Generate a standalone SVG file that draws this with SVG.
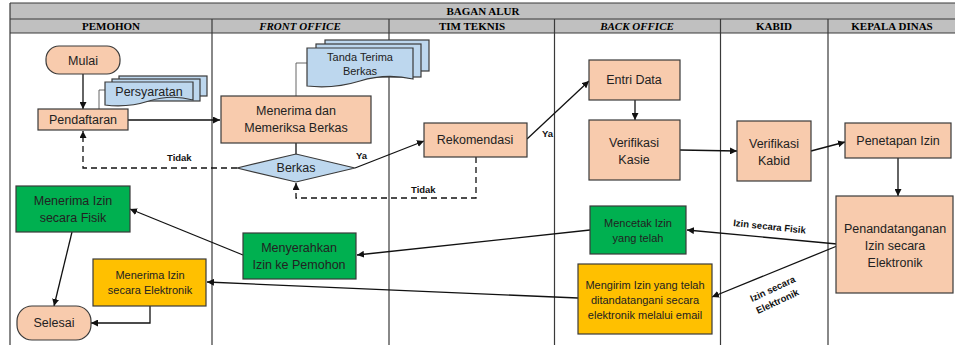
<svg xmlns="http://www.w3.org/2000/svg" width="955" height="345" viewBox="0 0 955 345">
<style>
.grid{stroke:#3a3a3a;stroke-width:1.2;fill:none}
.hdr{fill:#c0c0c0}
.ht{font-family:"Liberation Serif",serif;font-weight:bold;font-size:11px;fill:#000;text-anchor:middle}
.hti{font-style:italic}
.or{fill:#f8cbad;stroke:#3a3a3a;stroke-width:1.2}
.bl{fill:#bdd7ee;stroke:#3a3a3a;stroke-width:1.2}
.gr{fill:#00b050;stroke:#3a3a3a;stroke-width:1.2}
.ye{fill:#ffc000;stroke:#3a3a3a;stroke-width:1.2}
.t{font-family:"Liberation Sans",Arial,sans-serif;font-size:12.5px;fill:#222;text-anchor:middle}
.ts{font-size:11px}
.lb{font-family:"Liberation Sans",Arial,sans-serif;font-weight:bold;font-size:9.5px;fill:#111}
.c{stroke:#111;stroke-width:1.3;fill:none}
.ca{marker-end:url(#ah)}
.d{stroke-dasharray:6,4}
.thin{stroke:#555;stroke-width:0.9;fill:none}
</style>
<defs>
<marker id="ah" viewBox="0 0 10 10" refX="10" refY="5" markerWidth="7" markerHeight="7" markerUnits="userSpaceOnUse" orient="auto">
<path d="M0,0 L10,5 L0,10 Z" fill="#111"/>
</marker>
</defs>
<g id="table">
<rect class="hdr" x="10" y="3" width="946" height="30"/>
<path class="grid" d="M10,3 H956 M10,19 H956 M10,33 H956 M10,3 V345 M212,19 V345 M389,19 V345 M554.5,19 V345 M720.5,19 V345 M828,19 V345"/>
<text class="ht" x="483" y="15">BAGAN ALUR</text>
<text class="ht" x="111" y="30">PEMOHON</text>
<text class="ht hti" x="300" y="30">FRONT OFFICE</text>
<text class="ht" x="472" y="30">TIM TEKNIS</text>
<text class="ht hti" x="637" y="30">BACK OFFICE</text>
<text class="ht" x="774" y="30">KABID</text>
<text class="ht" x="892" y="30">KEPALA DINAS</text>
</g>
<g id="connectors">
<path class="thin" d="M105,90 H99 V109"/>
<path class="thin" d="M307,63 H296 V96"/>
<path class="c" d="M296,143 V154"/>
<path class="c ca" d="M83,74 V109"/>
<path class="c ca" d="M128,120 H220"/>
<path class="c d ca" d="M237,168 H83 V131"/>
<path class="c ca" d="M355,168 L424,141"/>
<path class="c d ca" d="M476,157 V198 H296 V183"/>
<path class="c ca" d="M527,139 L589,81"/>
<path class="c ca" d="M635,100 V120"/>
<path class="c ca" d="M680,150 L737,151"/>
<path class="c ca" d="M811,151 L845,142"/>
<path class="c ca" d="M898,158 V196"/>
<path class="c ca" d="M837,244 L687,230"/>
<path class="c ca" d="M837,246 L712,297"/>
<path class="c ca" d="M590,230 L357,255"/>
<path class="c ca" d="M243,255 L130,209"/>
<path class="c ca" d="M578,298 L207,282"/>
<path class="c ca" d="M72,232 L54,306"/>
<path class="c ca" d="M150,306 V323 H91"/>
<text class="lb" x="167" y="161">Tidak</text>
<text class="lb" x="356" y="159">Ya</text>
<text class="lb" x="411" y="193">Tidak</text>
<text class="lb" x="542" y="137">Ya</text>
<text class="lb" transform="translate(733,226) rotate(6)">Izin secara Fisik</text>
<text class="lb" transform="translate(752,302) rotate(-25)">Izin secara</text>
<text class="lb" transform="translate(758,314) rotate(-25)">Elektronik</text>
</g>
<g id="mulai">
<rect class="or" x="46" y="46" width="74" height="28" rx="13"/>
<text class="t" x="83" y="65">Mulai</text>
</g>
<g id="persyaratan">
<rect class="bl" x="119" y="76" width="88" height="20"/>
<rect class="bl" x="112" y="79" width="88" height="22"/>
<path class="bl" d="M105,82 H193 V100 Q171,94 149,101 T105,105 Z"/>
<text class="t" x="149" y="96">Persyaratan</text>
</g>
<g id="pendaftaran">
<rect class="or" x="38" y="109" width="90" height="21"/>
<text class="t" x="83" y="124">Pendaftaran</text>
</g>
<g id="tanda-terima">
<rect class="bl" x="325" y="40" width="104" height="31"/>
<rect class="bl" x="316" y="44" width="105" height="33"/>
<path class="bl" d="M307,48 H413 V79 Q386,73 360,81 T307,86 Z"/>
<text class="t ts" x="360" y="61">Tanda Terima</text>
<text class="t ts" x="360" y="75">Berkas</text>
</g>
<g id="menerima-berkas">
<rect class="or" x="221" y="96" width="150" height="47"/>
<text class="t" x="296" y="115">Menerima dan</text>
<text class="t" x="296" y="132">Memeriksa Berkas</text>
</g>
<g id="berkas">
<path class="bl" d="M237,168 L296,154 L355,168 L296,182 Z"/>
<text class="t" x="296" y="172">Berkas</text>
</g>
<g id="rekomendasi">
<rect class="or" x="424" y="123" width="103" height="34"/>
<text class="t" x="475" y="144">Rekomendasi</text>
</g>
<g id="entri-data">
<rect class="or" x="589" y="60" width="91" height="40"/>
<text class="t" x="634" y="84">Entri Data</text>
</g>
<g id="verifikasi-kasie">
<rect class="or" x="589" y="120" width="91" height="60"/>
<text class="t" x="634" y="147">Verifikasi</text>
<text class="t" x="634" y="164">Kasie</text>
</g>
<g id="verifikasi-kabid">
<rect class="or" x="737" y="121" width="74" height="60"/>
<text class="t" x="774" y="148">Verifikasi</text>
<text class="t" x="774" y="165">Kabid</text>
</g>
<g id="penetapan">
<rect class="or" x="845" y="123" width="106" height="35"/>
<text class="t" x="898" y="145">Penetapan Izin</text>
</g>
<g id="penandatanganan">
<rect class="or" x="836" y="196" width="117" height="97"/>
<text class="t" x="895" y="233">Penandatanganan</text>
<text class="t" x="895" y="250">Izin secara</text>
<text class="t" x="895" y="267">Elektronik</text>
</g>
<g id="mencetak">
<rect class="gr" x="590" y="206" width="96" height="48"/>
<text class="t ts" x="638" y="227">Mencetak Izin</text>
<text class="t ts" x="638" y="242">yang telah</text>
</g>
<g id="mengirim">
<rect class="ye" x="578" y="264" width="134" height="70"/>
<text class="t ts" x="645" y="289">Mengirim Izin yang telah</text>
<text class="t ts" x="645" y="304">ditandatangani secara</text>
<text class="t ts" x="645" y="319">elektronik melalui email</text>
</g>
<g id="menyerahkan">
<rect class="gr" x="243" y="233" width="113" height="46"/>
<text class="t" x="299" y="252">Menyerahkan</text>
<text class="t" x="299" y="269">Izin ke Pemohon</text>
</g>
<g id="menerima-fisik">
<rect class="gr" x="16" y="186" width="114" height="46"/>
<text class="t" x="73" y="205">Menerima Izin</text>
<text class="t" x="73" y="222">secara Fisik</text>
</g>
<g id="menerima-elektronik">
<rect class="ye" x="93" y="259" width="113" height="47"/>
<text class="t ts" x="150" y="279">Menerima Izin</text>
<text class="t ts" x="150" y="294">secara Elektronik</text>
</g>
<g id="selesai">
<rect class="or" x="17" y="306" width="74" height="34" rx="15"/>
<text class="t" x="54" y="327">Selesai</text>
</g>
</svg>
